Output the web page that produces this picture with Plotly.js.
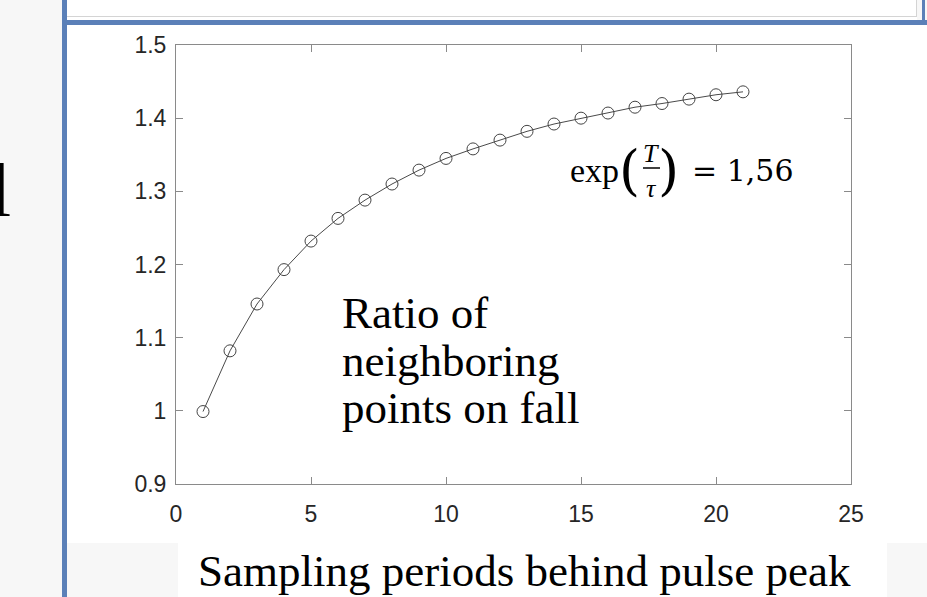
<!DOCTYPE html>
<html>
<head>
<meta charset="utf-8">
<script src="https://cdn.plot.ly/plotly-3.0.1.min.js"></script>
<style>
  html, body { margin: 0; padding: 0; background: #ffffff; overflow: hidden; }
  .deco { position: absolute; }
  #chart { position: absolute; left: 0; top: 0; width: 927px; height: 597px; }
</style>
</head>
<body>
<div class="deco" style="left:0;top:0;width:62px;height:597px;background:#f7f7f7;"></div>
<div class="deco" style="left:67px;top:0;width:849px;height:16px;background:#ffffff;border-right:1px solid #d4d4d4;border-bottom:1px solid #d4d4d4;"></div>
<div class="deco" style="left:917px;top:0;width:10px;height:20px;background:#f7f7f7;"></div>
<div class="deco" style="left:922px;top:0;width:3px;height:20px;background:#5b80b8;"></div>
<div class="deco" style="left:62px;top:20px;width:865px;height:5px;background:#5b80b8;"></div>
<div class="deco" style="left:62px;top:0;width:5px;height:597px;background:#5b80b8;"></div>
<div class="deco" style="left:67px;top:543px;width:111px;height:54px;background:#f7f7f7;"></div>
<div class="deco" style="left:887px;top:543px;width:40px;height:54px;background:#f7f7f7;"></div>
<div id="chart"></div>
<script>
// Data
const periods = [1, 2, 3, 4, 5, 6, 7, 8, 9, 10, 11, 12, 13, 14, 15, 16, 17, 18, 19, 20, 21];
const ratios = [0.999, 1.082, 1.146, 1.193, 1.232, 1.263, 1.288, 1.310, 1.329, 1.345, 1.358,
                1.370, 1.382, 1.392, 1.400, 1.407, 1.415, 1.420, 1.426, 1.432, 1.436];
const xTicks = [0, 5, 10, 15, 20, 25];
const yTicks = [0.9, 1, 1.1, 1.2, 1.3, 1.4, 1.5];
const yTickLabels = ['0.9', '1', '1.1', '1.2', '1.3', '1.4', '1.5'];
const labelLines = ['Ratio of', 'neighboring', 'points on fall'];
const xLabel = 'Sampling periods behind pulse peak';

// pixel helpers for annotation placement (plot area 176..851 x 45..484)
const W = 927, H = 597, L = 176, R = 851, T = 45, B = 484;
const px = v => (v - L) / (R - L);
const py = v => (B - v) / (B - T);

const serif = 'Liberation Serif, Times New Roman, serif';
const annotations = [];
const lineY = [313, 361, 408];
labelLines.forEach((t, i) => {
  annotations.push({xref: 'paper', yref: 'paper', x: px(340), y: py(lineY[i]), xanchor: 'left', yanchor: 'middle',
    text: t, showarrow: false, font: {family: serif, size: 45, color: '#000'}});
});
annotations.push({xref: 'paper', yref: 'paper', x: px(196), y: py(571), xanchor: 'left', yanchor: 'middle',
  text: xLabel, showarrow: false, font: {family: serif, size: 45, color: '#000'}});
annotations.push({xref: 'paper', yref: 'paper', x: px(-12), y: py(190), xanchor: 'left', yanchor: 'middle',
  text: 'l', showarrow: false, font: {family: serif, size: 76, color: '#000'}});
// formula exp(T/τ) = 1,56
annotations.push({xref: 'paper', yref: 'paper', x: px(568), y: py(170), xanchor: 'left', yanchor: 'middle',
  text: 'exp', showarrow: false, font: {family: serif, size: 34, color: '#000'}});
annotations.push({xref: 'paper', yref: 'paper', x: px(629), y: py(170), xanchor: 'center', yanchor: 'middle',
  text: '(', showarrow: false, font: {family: 'DejaVu Serif, serif', size: 54, color: '#000'}});
annotations.push({xref: 'paper', yref: 'paper', x: px(668), y: py(170), xanchor: 'center', yanchor: 'middle',
  text: ')', showarrow: false, font: {family: 'DejaVu Serif, serif', size: 54, color: '#000'}});
annotations.push({xref: 'paper', yref: 'paper', x: px(651), y: py(153), xanchor: 'center', yanchor: 'middle',
  text: '<i>T</i>', showarrow: false, font: {family: serif, size: 26, color: '#000'}});
annotations.push({xref: 'paper', yref: 'paper', x: px(651), y: py(188), xanchor: 'center', yanchor: 'middle',
  text: '<i>τ</i>', showarrow: false, font: {family: serif, size: 26, color: '#000'}});
annotations.push({xref: 'paper', yref: 'paper', x: px(690), y: py(170), xanchor: 'left', yanchor: 'middle',
  text: '= 1,56', showarrow: false, font: {family: 'DejaVu Serif, serif', size: 30, color: '#000'}});

const shapes = [{type: 'line', xref: 'paper', yref: 'paper', x0: px(643), x1: px(660), y0: py(168), y1: py(168),
  line: {color: '#000', width: 1.5}}];

const axisCommon = {
  showgrid: false, zeroline: false, showline: true, mirror: 'ticks',
  linecolor: '#8a8a8a', linewidth: 1, ticks: 'inside', ticklen: 7, tickcolor: '#8a8a8a', tickwidth: 1,
  tickfont: {family: 'Liberation Sans, Arial, sans-serif', size: 23, color: '#262626'}
};

const trace = {
  x: periods, y: ratios, type: 'scatter', mode: 'lines+markers',
  line: {color: '#4a4a4a', width: 1},
  marker: {symbol: 'circle-open', size: 12, color: '#444444', line: {width: 1, color: '#444444'}},
  hoverinfo: 'skip'
};

const layout = {
  width: W, height: H,
  margin: {l: L, r: W - R, t: T, b: H - B},
  paper_bgcolor: 'rgba(0,0,0,0)', plot_bgcolor: 'rgba(0,0,0,0)',
  showlegend: false,
  xaxis: Object.assign({}, axisCommon, {range: [0, 25], tickvals: xTicks, ticktext: xTicks.map(String), ticklabelstandoff: 9}),
  yaxis: Object.assign({}, axisCommon, {range: [0.9, 1.5], tickvals: yTicks, ticktext: yTickLabels, ticklabelstandoff: 4}),
  annotations: annotations,
  shapes: shapes
};

Plotly.newPlot('chart', [trace], layout, {displayModeBar: false, staticPlot: true});
</script>
</body>
</html>
